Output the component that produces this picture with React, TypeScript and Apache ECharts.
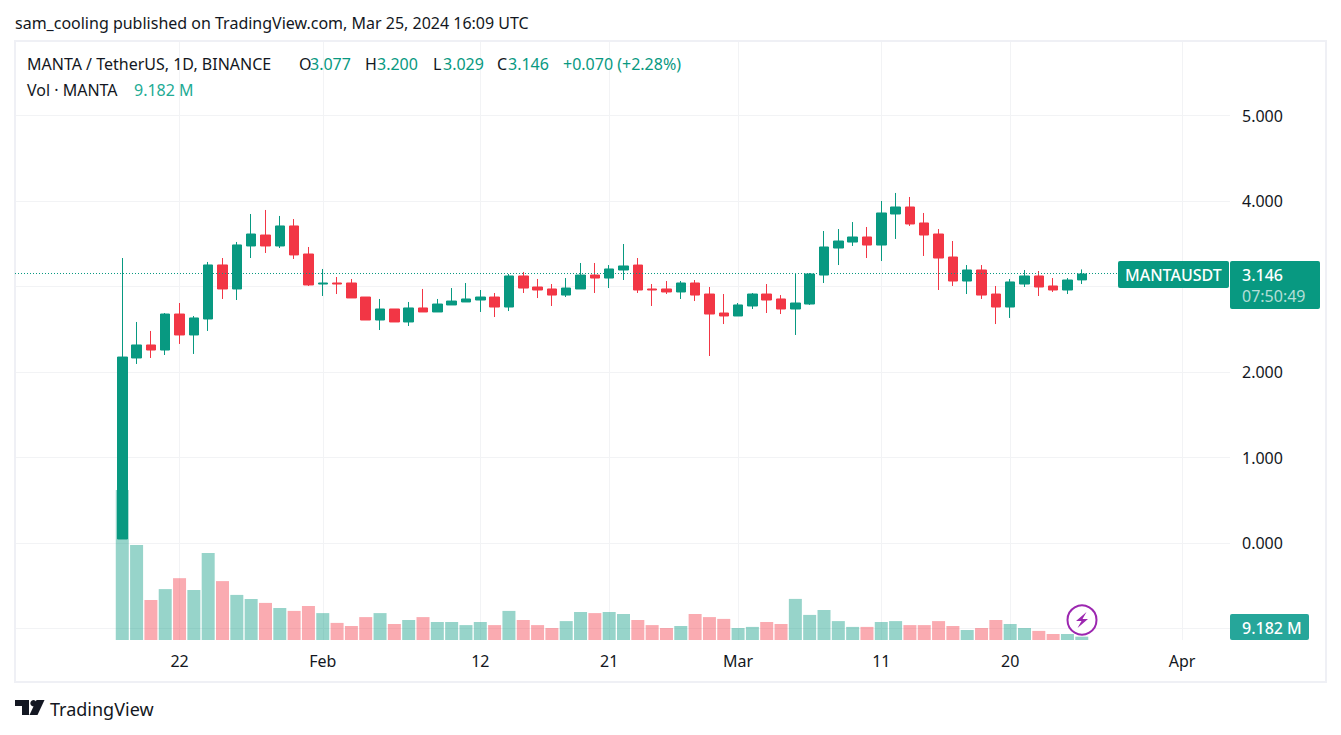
import React, { useEffect, useRef } from "react";
import * as echarts from "echarts";

const opens = [0.047,2.164,2.316,2.257,2.678,2.433,2.620,3.252,2.971,3.474,3.602,3.474,3.708,3.380,3.029,3.041,3.041,2.877,2.608,2.737,2.585,2.749,2.702,2.784,2.819,2.842,2.877,2.760,3.123,2.994,2.971,2.900,2.971,3.134,3.099,3.193,3.251,2.971,2.971,2.936,3.041,2.912,2.690,2.655,2.772,2.912,2.854,2.737,2.795,3.134,3.450,3.520,3.579,3.485,3.848,3.930,3.743,3.614,3.345,3.064,3.193,2.912,2.760,3.029,3.123,3.006,2.959,3.077];
const closes = [2.175,2.316,2.257,2.678,2.433,2.632,3.252,2.971,3.486,3.614,3.474,3.708,3.369,3.018,3.041,3.029,2.866,2.608,2.737,2.585,2.749,2.702,2.795,2.830,2.854,2.877,2.760,3.123,2.982,2.959,2.900,2.982,3.134,3.099,3.205,3.240,2.959,2.959,2.936,3.041,2.900,2.678,2.655,2.784,2.912,2.842,2.737,2.807,3.146,3.462,3.532,3.579,3.485,3.860,3.930,3.731,3.602,3.333,3.064,3.193,2.900,2.760,3.053,3.123,2.994,2.959,3.076,3.146];
const lows = [0.047,2.094,2.164,2.199,2.328,2.211,2.480,2.854,2.842,3.333,3.392,3.450,3.322,3.006,2.889,2.912,2.866,2.608,2.491,2.585,2.538,2.702,2.702,2.784,2.819,2.702,2.643,2.713,2.924,2.865,2.772,2.877,2.971,2.924,2.982,3.076,2.924,2.772,2.912,2.854,2.830,2.187,2.561,2.655,2.737,2.690,2.678,2.433,2.784,3.041,3.251,3.474,3.333,3.298,3.556,3.708,3.357,2.959,3.006,2.912,2.854,2.561,2.632,2.994,2.889,2.936,2.912,3.029];
const highs = [3.333,2.585,2.480,2.690,2.807,2.655,3.287,3.333,3.521,3.848,3.895,3.825,3.789,3.462,3.205,3.111,3.088,2.877,2.854,2.737,2.819,2.971,2.854,2.982,3.041,2.959,2.924,3.146,3.170,3.088,3.029,3.099,3.275,3.275,3.251,3.497,3.333,3.029,3.064,3.064,3.076,2.994,2.912,2.807,2.924,3.029,2.900,3.158,3.158,3.649,3.672,3.754,3.696,4.000,4.094,4.047,3.860,3.672,3.532,3.251,3.251,3.006,3.088,3.193,3.181,3.099,3.099,3.200];
const volumesM = [412.5,261,110,140,170,137.5,239,162,124,113,102,88,80,93.5,74,47,38.5,63,74,44,55,63,49.5,49.5,41,49.5,41,80,55,41,33,52,77,74,77,71.5,55,41,33,38.5,71.5,63,58,33,36,49.5,44,113,69,82.5,52,36,36,49.5,52,41,41,52,38.5,27.5,33,55,44,33,25,16.5,16.5,9.182];
const tickDays = [4, 14, 25, 34, 43, 53, 62, 74];
const tickLabels = ["22", "Feb", "12", "21", "Mar", "11", "20", "Apr"];
const lastPrice = 3.146;

const UP = "#089981";
const DOWN = "#F23645";
const INK = "#131722";
const GRIDLINE = "#F2F3F5";
const FONT = "'Noto Sans', sans-serif";

const text = (t: string, x: number, y: number, fill: string, fontSize = 16, extra: any = {}) => ({
  type: "text",
  x,
  y,
  silent: true,
  z: 20,
  style: { text: t, fill, fontSize, fontFamily: FONT, textVerticalAlign: "middle", ...extra },
});

const headerParts: [string, number, string][] = [
  ["MANTA / TetherUS, 1D, BINANCE", 27, INK],
  ["O", 299, INK],
  ["3.077", 310, UP],
  ["H", 365, INK],
  ["3.200", 377, UP],
  ["L", 433, INK],
  ["3.029", 443, UP],
  ["C", 497, INK],
  ["3.146", 508, UP],
  ["+0.070 (+2.28%)", 563, UP],
];

export default function App() {
  const ref = useRef<HTMLDivElement>(null);
  useEffect(() => {
    const chart = echarts.init(ref.current!, undefined, { renderer: "svg" });
    const xMin = -7.49;
    const xMax = 77.35;
    const days = opens.map((_, i) => i);
    chart.setOption({
      animation: false,
      backgroundColor: "#ffffff",
      grid: [
        { left: 15, width: 1215, top: 30, height: 598.5 },
        { left: 15, width: 1215, top: 42, height: 598 },
      ],
      xAxis: [
        {
          type: "value",
          gridIndex: 0,
          min: xMin,
          max: xMax,
          show: false,
          splitLine: { show: false },
        },
        {
          type: "value",
          gridIndex: 1,
          min: xMin,
          max: xMax,
          axisLine: { show: false },
          axisTick: { show: false, customValues: tickDays },
          axisLabel: {
            customValues: tickDays,
            margin: 13,
            color: INK,
            fontSize: 16,
            fontFamily: FONT,
            formatter: (v: number) => tickLabels[tickDays.indexOf(Math.round(v))] ?? "",
          },
          splitLine: { show: true, lineStyle: { color: GRIDLINE, width: 1 } },
        },
      ],
      yAxis: [
        {
          type: "value",
          gridIndex: 0,
          position: "right",
          min: -1,
          max: 6,
          interval: 1,
          axisLine: { show: false },
          axisTick: { show: false },
          axisLabel: {
            showMinLabel: false,
            showMaxLabel: false,
            margin: 12,
            color: INK,
            fontSize: 16,
            fontFamily: FONT,
            formatter: (v: number) => v.toFixed(3),
          },
          splitLine: { show: true, showMaxLine: false, lineStyle: { color: GRIDLINE, width: 1 } },
        },
        {
          type: "value",
          gridIndex: 1,
          min: 0,
          max: 1644.5,
          show: false,
          splitLine: { show: false },
        },
      ],
      series: [
        {
          type: "bar",
          xAxisIndex: 1,
          yAxisIndex: 1,
          barWidth: 13,
          z: 2,
          data: volumesM.map((v, i) => ({
            value: [days[i], v],
            itemStyle: { color: closes[i] >= opens[i] ? UP : DOWN, opacity: 0.42 },
          })),
        },
        {
          type: "candlestick",
          xAxisIndex: 0,
          yAxisIndex: 0,
          barWidth: 10,
          z: 3,
          encode: { x: 0, y: [1, 2, 3, 4] },
          itemStyle: { color: UP, color0: DOWN, borderColor: UP, borderColor0: DOWN, borderWidth: 1 },
          data: days.map((d, i) => [d, opens[i], closes[i], lows[i], highs[i]]),
          markLine: {
            silent: true,
            symbol: "none",
            label: { show: false },
            lineStyle: { color: UP, type: [1, 2], width: 1 },
            data: [{ yAxis: lastPrice }],
          },
        },
      ],
      graphic: [
        text("sam_cooling published on TradingView.com, Mar 25, 2024 16:09 UTC", 15, 23, INK, 16),
        {
          type: "rect",
          silent: true,
          z: 1,
          shape: { x: 15, y: 41, width: 1311, height: 641 },
          style: { fill: "none", stroke: "#EFF0F5", lineWidth: 2 },
        },
        ...headerParts.map(([t, x, c]) => text(t, x, 64, c, 16)),
        text("Vol · MANTA", 27, 90, INK, 16),
        text("9.182 M", 134, 90, "#22AB94", 16),
        {
          type: "rect",
          silent: true,
          z: 15,
          shape: { x: 1118, y: 261, width: 111, height: 27, r: 2 },
          style: { fill: UP },
        },
        {
          type: "rect",
          silent: true,
          z: 15,
          shape: { x: 1230, y: 261, width: 90, height: 48, r: 2 },
          style: { fill: UP },
        },
        {
          type: "rect",
          silent: true,
          z: 15,
          shape: { x: 1230, y: 614, width: 79, height: 26, r: 2 },
          style: { fill: "#26A69A" },
        },
        text("MANTAUSDT", 1125, 275, "#FFFFFF", 16, { fontWeight: 500 }),
        text("3.146", 1242, 275, "#FFFFFF", 16, { fontWeight: 500 }),
        text("07:50:49", 1242, 296, "rgba(255,255,255,0.7)", 16),
        text("9.182 M", 1242, 628, "#FFFFFF", 16, { fontWeight: 500 }),
        {
          type: "circle",
          silent: true,
          z: 16,
          shape: { cx: 1082, cy: 620, r: 14.5 },
          style: { fill: "rgba(255,255,255,0.85)", stroke: "#9C27B0", lineWidth: 2 },
        },
        {
          type: "polygon",
          silent: true,
          z: 17,
          shape: {
            points: [
              [1086.5, 612],
              [1076, 621],
              [1081.5, 621],
              [1077.5, 628],
              [1088, 619],
              [1082.5, 619],
            ],
          },
          style: { fill: "#9C27B0" },
        },
        {
          type: "polygon",
          silent: true,
          z: 17,
          shape: { points: [[15, 700], [29, 700], [29, 715], [22, 715], [22, 706], [15, 706]] },
          style: { fill: INK },
        },
        {
          type: "circle",
          silent: true,
          z: 17,
          shape: { cx: 33.5, cy: 703.2, r: 3.2 },
          style: { fill: INK },
        },
        {
          type: "polygon",
          silent: true,
          z: 17,
          shape: { points: [[36.5, 700], [44.5, 700], [37.5, 715], [29.5, 715]] },
          style: { fill: INK },
        },
        text("TradingView", 50, 709, INK, 18, { fontWeight: 400 }),
      ],
    });
    return () => chart.dispose();
  }, []);
  return (
    <div
      ref={ref}
      style={{ position: "absolute", left: 0, top: 0, width: 1341, height: 735, background: "#fff" }}
    />
  );
}
